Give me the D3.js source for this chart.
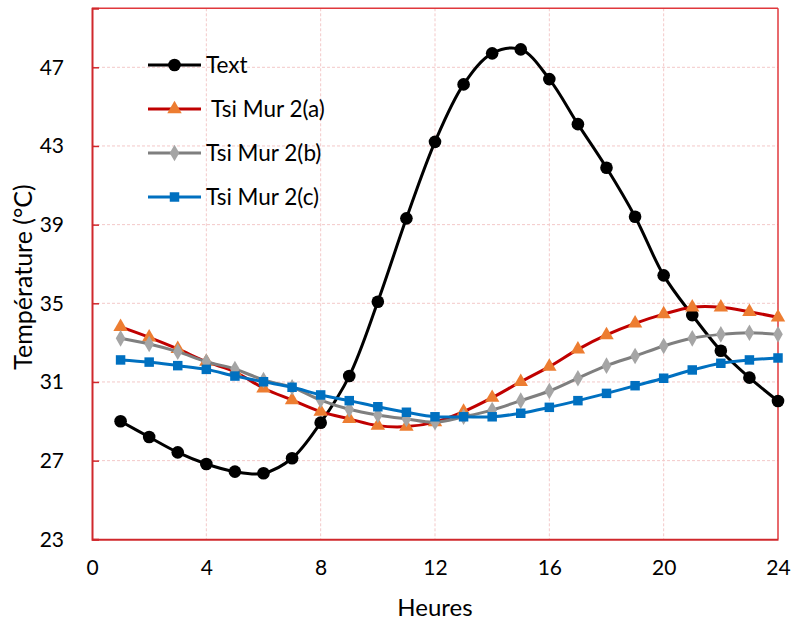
<!DOCTYPE html>
<html>
<head>
<meta charset="utf-8">
<script src="https://cdn.jsdelivr.net/npm/d3@7"></script>
<style>
  html, body { margin: 0; padding: 0; background: #fff; }
  svg { display: block; font-family: Lato, "Open Sans", sans-serif; }
</style>
</head>
<body>
<svg id="chart" width="794" height="624"></svg>
<script>
// Hours of the day
const hours = d3.range(1, 25);

// Outdoor temperature and inner surface temperatures of the three wall variants (°C)
const text = [29.0, 28.2, 27.42, 26.83, 26.44, 26.36, 27.12, 28.93, 31.3, 35.08, 39.32, 43.21,
              46.13, 47.71, 47.91, 46.4, 44.11, 41.89, 39.4, 36.42, 34.4, 32.59, 31.22, 30.03];
const murA = [33.8, 33.27, 32.68, 32.03, 31.52, 30.68, 30.08, 29.49, 29.12, 28.78, 28.73, 28.96,
              29.49, 30.2, 31.01, 31.78, 32.66, 33.39, 33.98, 34.45, 34.8, 34.8, 34.57, 34.29];
const murB = [33.22, 32.93, 32.54, 32.03, 31.66, 31.1, 30.73, 30.08, 29.61, 29.32, 29.12, 28.95,
              29.23, 29.57, 30.05, 30.54, 31.19, 31.83, 32.32, 32.83, 33.22, 33.42, 33.5, 33.42];
const murC = [32.12, 32.01, 31.83, 31.64, 31.3, 31.01, 30.73, 30.34, 30.05, 29.74, 29.46, 29.23,
              29.23, 29.23, 29.41, 29.71, 30.05, 30.42, 30.81, 31.19, 31.61, 31.95, 32.12, 32.22];

const seriesNames = ["Text", " Tsi Mur 2(a)", "Tsi Mur 2(b)", "Tsi Mur 2(c)"];
const xTicks = [0, 4, 8, 12, 16, 20, 24];
const yTicks = [23, 27, 31, 35, 39, 43, 47];

const series = [
  { name: seriesNames[0], values: text, line: "#000000", fill: "#000000", symbol: d3.symbolCircle, size: 125 },
  { name: seriesNames[1], values: murA, line: "#c00000", fill: "#ed7d31", symbol: d3.symbolTriangle, size: 90 },
  { name: seriesNames[2], values: murB, line: "#7f7f7f", fill: "#a5a5a5", symbol: d3.symbolDiamond, size: 80 },
  { name: seriesNames[3], values: murC, line: "#0070c0", fill: "#0070c0", symbol: d3.symbolSquare, size: 90 }
];

const plot = { left: 92, right: 778, top: 8.3, bottom: 539.3 };
const svg = d3.select("#chart");

const x = d3.scaleLinear().domain([0, 24]).range([plot.left, plot.right]);
const y = d3.scaleLinear().domain([23, 50]).range([plot.bottom, plot.top]);

// Dashed grid
const grid = svg.append("g");
grid.selectAll("line.h").data(yTicks.slice(1)).join("line")
  .attr("x1", plot.left).attr("x2", plot.right)
  .attr("y1", d => y(d)).attr("y2", d => y(d))
  .attr("stroke", "#f3c9c9").attr("stroke-width", 1).attr("stroke-dasharray", "3,2");
grid.selectAll("line.v").data(xTicks.slice(1, -1)).join("line")
  .attr("y1", plot.top).attr("y2", plot.bottom)
  .attr("x1", d => x(d)).attr("x2", d => x(d))
  .attr("stroke", "#f3c9c9").attr("stroke-width", 1).attr("stroke-dasharray", "3,2");

// Plot frame
svg.append("line").attr("x1", plot.left).attr("x2", plot.right).attr("y1", plot.top).attr("y2", plot.top)
  .attr("stroke", "#e0383c").attr("stroke-width", 1.5);
svg.append("line").attr("x1", plot.right).attr("x2", plot.right).attr("y1", plot.top).attr("y2", plot.bottom)
  .attr("stroke", "#e0383c").attr("stroke-width", 1.5);

// Axes
const yAxis = d3.axisLeft(y).tickValues(yTicks).tickSize(-7).tickPadding(28).tickFormat(d3.format("d"));
const gy = svg.append("g").attr("transform", `translate(${plot.left},0)`).call(yAxis);
gy.select(".domain").attr("stroke", "#d0282c").attr("stroke-width", 2);
gy.selectAll(".tick line").attr("stroke", "#d0282c").attr("stroke-width", 1.5);
gy.selectAll(".tick text").attr("font-size", 21).attr("fill", "#000").attr("font-family", "Lato, sans-serif");

const xAxis = d3.axisBottom(x).tickValues(xTicks).tickSize(0).tickPadding(21).tickFormat(d3.format("d"));
const gx = svg.append("g").attr("transform", `translate(0,${plot.bottom})`).call(xAxis);
gx.select(".domain").attr("stroke", "#d0282c").attr("stroke-width", 2);
gx.selectAll(".tick text").attr("font-size", 21).attr("fill", "#000").attr("font-family", "Lato, sans-serif");

// Axis titles
svg.append("text").attr("transform", "translate(32,277) rotate(-90)")
  .attr("text-anchor", "middle").attr("font-size", 25).text("Température (°C)");
svg.append("text").attr("x", 435).attr("y", 616)
  .attr("text-anchor", "middle").attr("font-size", 24).text("Heures");

// Series: smooth line with markers
const line = d3.line().x((d, i) => x(hours[i])).y(d => y(d)).curve(d3.curveCatmullRom.alpha(0.5));
series.forEach(s => {
  const g = svg.append("g");
  g.append("path").datum(s.values).attr("d", line)
    .attr("fill", "none").attr("stroke", s.line).attr("stroke-width", 3);
  g.selectAll("path.m").data(s.values).join("path")
    .attr("transform", (d, i) => `translate(${x(hours[i])},${y(d)})`)
    .attr("d", d3.symbol(s.symbol, s.size)).attr("fill", s.fill);
});

// Legend
const legendY = [65, 109, 153, 197];
series.forEach((s, i) => {
  const g = svg.append("g").attr("transform", `translate(0,${legendY[i]})`);
  g.append("line").attr("x1", 148).attr("x2", 201).attr("stroke", s.line).attr("stroke-width", 3);
  g.append("path").attr("transform", "translate(174.5,0)")
    .attr("d", d3.symbol(s.symbol, s.size)).attr("fill", s.fill);
  g.append("text").attr("x", 206).attr("y", 0).attr("dy", "0.35em")
    .attr("font-size", 22.5).attr("xml:space", "preserve").style("white-space", "pre").text(s.name);
});
</script>
</body>
</html>
